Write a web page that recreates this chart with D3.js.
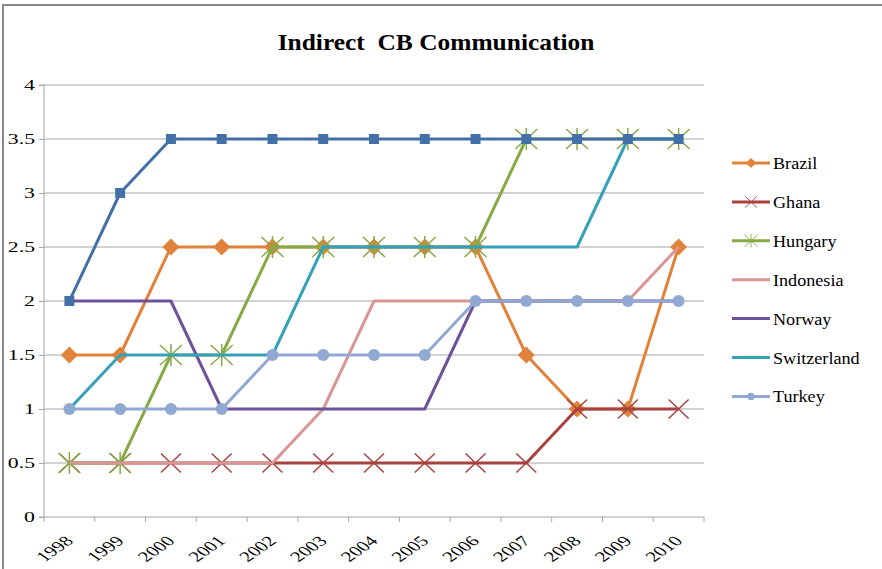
<!DOCTYPE html>
<html>
<head>
<meta charset="utf-8">
<script src="https://cdn.jsdelivr.net/npm/d3@7"></script>
<style>
  body { margin: 0; background: #fff; }
</style>
</head>
<body>
<svg id="chart" width="882" height="569"></svg>
<script>
var years = ["1998", "1999", "2000", "2001", "2002", "2003", "2004", "2005", "2006", "2007", "2008", "2009", "2010"];
var yTicks = [0, 0.5, 1, 1.5, 2, 2.5, 3, 3.5, 4];

var brazil      = [1.5, 1.5, 2.5, 2.5, 2.5, 2.5, 2.5, 2.5, 2.5, 1.5, 1, 1, 2.5];
var ghana       = [0.5, 0.5, 0.5, 0.5, 0.5, 0.5, 0.5, 0.5, 0.5, 0.5, 1, 1, 1];
var hungary     = [0.5, 0.5, 1.5, 1.5, 2.5, 2.5, 2.5, 2.5, 2.5, 3.5, 3.5, 3.5, 3.5];
var indonesia   = [0.5, 0.5, 0.5, 0.5, 0.5, 1, 2, 2, 2, 2, 2, 2, 2.5];
var norway      = [2, 2, 2, 1, 1, 1, 1, 1, 2, 2, 2, 2, 2];
var switzerland = [1, 1.5, 1.5, 1.5, 1.5, 2.5, 2.5, 2.5, 2.5, 2.5, 2.5, 3.5, 3.5];
var turkey      = [1, 1, 1, 1, 1.5, 1.5, 1.5, 1.5, 2, 2, 2, 2, 2];
var unlabeled   = [2, 3, 3.5, 3.5, 3.5, 3.5, 3.5, 3.5, 3.5, 3.5, 3.5, 3.5, 3.5];

var series = [
    {name: "Brazil", values: brazil, color: "#E0823A", marker: "diamond", legend: true},
    {name: "Ghana", values: ghana, color: "#A8423F", marker: "x", legend: true},
    {name: "Hungary", values: hungary, color: "#86AA45", marker: "star", legend: true},
    {name: "Indonesia", values: indonesia, color: "#D99695", marker: "none", legend: true},
    {name: "Norway", values: norway, color: "#6E5299", marker: "none", legend: true},
    {name: "Switzerland", values: switzerland, color: "#35A0B7", marker: "none", legend: true},
    {name: "Turkey", values: turkey, color: "#91A9D2", marker: "circle", legend: true},
    {name: "", values: unlabeled, color: "#4470A8", marker: "square", legend: false}
];

var serif = "'Liberation Serif', 'Times New Roman', serif";
// the original picture is stretched sideways, so text is widened a bit
var axisStretch = 1.45;

var svg = d3.select("#chart"),
    margin = {top: 85, right: 178, bottom: 52, left: 44},
    width = 704 - margin.left,
    height = 517 - margin.top;

// frame
svg.append("path")
    .attr("d", "M3,569V5H882")
    .attr("fill", "none")
    .attr("stroke", "#8a8a8a")
    .attr("stroke-width", 2);

svg.append("text")
    .attr("transform", "translate(436,50) scale(1.06,1)")
    .attr("text-anchor", "middle")
    .style("font-family", serif)
    .style("font-size", "24px")
    .style("font-weight", "bold")
    .style("white-space", "pre")
    .text("Indirect  CB Communication");

var x = d3.scaleBand().domain(years).range([0, width]),
    y = d3.scaleLinear().domain([0, 4]).range([height, 0]);

var g = svg.append("g")
    .attr("transform", "translate(" + margin.left + "," + margin.top + ")");

// gridlines
g.selectAll(".grid")
    .data(yTicks.slice(1))
    .enter().append("line")
    .attr("x1", 0).attr("x2", width)
    .attr("y1", function(d) { return y(d); })
    .attr("y2", function(d) { return y(d); })
    .attr("stroke", "#a6a6a6")
    .attr("stroke-width", 1);

var yAxis = g.append("g")
    .call(d3.axisLeft(y).tickValues(yTicks).tickSize(5).tickFormat(d3.format("")));
yAxis.select(".domain").attr("stroke", "#a6a6a6").attr("d", "M-5," + y(0) + "H0V" + y(4) + "H-5");
yAxis.selectAll(".tick line").attr("stroke", "#a6a6a6");
yAxis.selectAll("text")
    .attr("x", null)
    .attr("transform", "translate(-9,0) scale(" + axisStretch + ",1)")
    .style("font-family", serif)
    .style("font-size", "15px")
    .attr("fill", "#000");

var xAxis = g.append("g")
    .attr("transform", "translate(0," + height + ")");
xAxis.append("line")
    .attr("x1", 0).attr("x2", width)
    .attr("stroke", "#a6a6a6");
xAxis.selectAll(".xtick")
    .data(d3.range(years.length + 1))
    .enter().append("line")
    .attr("x1", function(i) { return i * x.step(); })
    .attr("x2", function(i) { return i * x.step(); })
    .attr("y1", 0).attr("y2", 5)
    .attr("stroke", "#a6a6a6");
xAxis.selectAll(".xlabel")
    .data(years)
    .enter().append("text")
    .attr("text-anchor", "end")
    .attr("transform", function(d) {
        return "translate(" + (x(d) + x.bandwidth() / 2 + 5) + ",25) scale(" + axisStretch + ",1) rotate(-45)";
    })
    .style("font-family", serif)
    .style("font-size", "14.5px")
    .text(function(d) { return d; });

var line = d3.line()
    .x(function(d, i) { return x(years[i]) + x.bandwidth() / 2; })
    .y(function(d) { return y(d); });

function drawMarker(sel, type, color) {
    if (type === "diamond") {
        sel.append("path").attr("d", "M0,-8.5L8.5,0L0,8.5L-8.5,0Z").attr("fill", color);
    } else if (type === "square") {
        sel.append("rect").attr("x", -5).attr("y", -5).attr("width", 10).attr("height", 10).attr("fill", color);
    } else if (type === "circle") {
        sel.append("circle").attr("r", 6).attr("fill", color);
    } else if (type === "x") {
        sel.append("path").attr("d", "M-10,-9.5L10,9.5M-10,9.5L10,-9.5").attr("stroke", color).attr("stroke-width", 1.5);
    } else if (type === "star") {
        sel.append("path").attr("d", "M-11,-10L11,10M-11,10L11,-10M0,-11V11").attr("stroke", color).attr("stroke-width", 1.5);
    }
}

series.forEach(function(s) {
    var sg = g.append("g");
    sg.append("path")
        .datum(s.values)
        .attr("fill", "none")
        .attr("stroke", s.color)
        .attr("stroke-width", 3)
        .attr("stroke-linejoin", "round")
        .attr("d", line);
    if (s.marker !== "none") {
        sg.selectAll(".m")
            .data(s.values)
            .enter().append("g")
            .attr("transform", function(d, i) {
                return "translate(" + (x(years[i]) + x.bandwidth() / 2) + "," + y(d) + ")";
            })
            .each(function() { drawMarker(d3.select(this), s.marker, s.color); });
    }
});

// legend
var legend = svg.append("g")
    .attr("transform", "translate(732,163)");
var item = legend.selectAll(".item")
    .data(series.filter(function(s) { return s.legend; }))
    .enter().append("g")
    .attr("transform", function(d, i) { return "translate(0," + i * 38.9 + ")"; });
item.append("line")
    .attr("x1", 0).attr("x2", 38)
    .attr("stroke", function(d) { return d.color; })
    .attr("stroke-width", 3);
item.each(function(d) {
    var m = d3.select(this).append("g").attr("transform", "translate(19,0) scale(0.6)");
    drawMarker(m, d.marker, d.color);
});
item.append("text")
    .attr("transform", "translate(41,6) scale(1.1,1)")
    .style("font-family", serif)
    .style("font-size", "16.5px")
    .text(function(d) { return d.name; });
</script>
</body>
</html>
